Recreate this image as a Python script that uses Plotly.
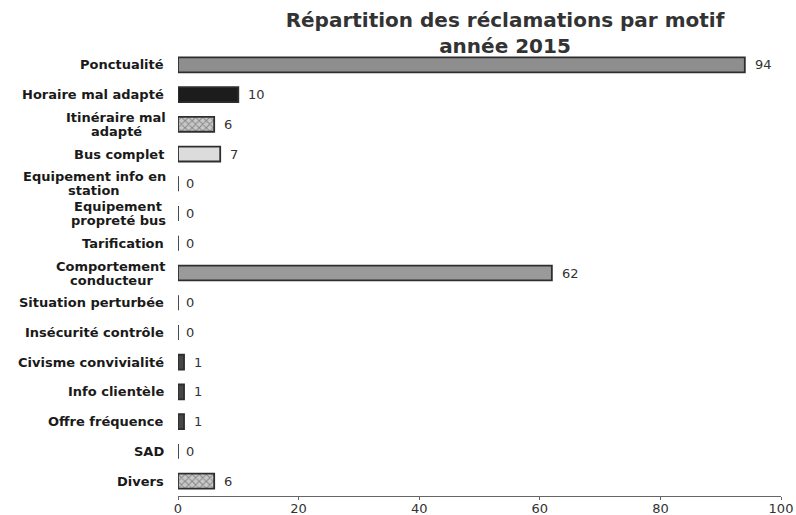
import plotly.graph_objects as go

categories = ["Ponctualité", "Horaire mal adapté", "Itinéraire mal<br>adapté", "Bus complet",
              "Equipement info en<br>station", "Equipement<br>propreté bus", "Tarification",
              "Comportement<br>conducteur", "Situation perturbée", "Insécurité contrôle",
              "Civisme convivialité", "Info clientèle", "Offre fréquence", "SAD", "Divers"]
values = [94, 10, 6, 7, 0, 0, 0, 62, 0, 0, 1, 1, 1, 0, 6]
fill_colors = ["#8e8e8e", "#1c1c1c", "#c8c8c8", "#dcdcdc", "#888", "#888", "#888",
               "#9a9a9a", "#888", "#888", "#474747", "#474747", "#474747", "#888", "#c8c8c8"]
patterns = ["", "", "x", "", "", "", "", "", "", "", "", "", "", "", "x"]
x_ticks = [0, 20, 40, 60, 80, 100]
title = "Répartition des réclamations par motif<br>année 2015"

LABEL_SIZE = 13
# approximate DejaVu Sans Bold advance widths (em) used to centre wrapped labels
W = {" ": 0.348, "a": 0.675, "b": 0.716, "c": 0.590, "d": 0.716, "e": 0.678, "é": 0.678,
     "f": 0.435, "i": 0.343, "l": 0.343, "m": 1.042, "n": 0.712, "o": 0.687, "p": 0.716,
     "q": 0.716, "r": 0.493, "s": 0.595, "t": 0.478, "u": 0.712, "E": 0.683, "C": 0.734,
     "I": 0.372}


def text_w(s):
    return sum(W.get(ch, 0.68) for ch in s) * LABEL_SIZE


fig = go.Figure()
fig.add_trace(go.Bar(
    x=values, y=categories, orientation="h", width=0.5,
    marker=dict(color=fill_colors, line=dict(color="#2e2e2e", width=1.8),
                pattern=dict(shape=patterns, fgcolor="#4a4a4a", size=5, solidity=0.35)),
    hoverinfo="skip", showlegend=False,
))
zero_cats = [c for c, v in zip(categories, values) if v == 0]
fig.add_trace(go.Scatter(
    x=[0] * len(zero_cats), y=zero_cats, mode="markers",
    marker=dict(symbol="line-ns", size=9, line=dict(color="#555", width=1)),
    hoverinfo="skip", showlegend=False,
))

label_font = dict(family="DejaVu Sans", size=LABEL_SIZE, color="#1a1a1a", weight="bold")
for c, v in zip(categories, values):
    fig.add_annotation(x=v, y=c, xref="x", yref="y", text=str(v), showarrow=False,
                       xanchor="left", xshift=8 if v > 0 else 6,
                       font=dict(family="DejaVu Sans", size=13, color="#333"))
    lines = c.split("<br>")
    if len(lines) == 1:
        fig.add_annotation(x=0, y=c, xref="paper", yref="y", text=c, showarrow=False,
                           xanchor="right", xshift=-12, font=label_font)
    else:
        wmax = max(text_w(s) for s in lines)
        n = len(lines)
        for k, s in enumerate(lines):
            fig.add_annotation(x=0, y=c, xref="paper", yref="y", text=s, showarrow=False,
                               xanchor="center", xshift=-12 - wmax / 2,
                               yshift=7 * (n - 1) - 14 * k, font=label_font)

fig.update_layout(
    width=796, height=515,
    margin=dict(l=178, r=15, t=50, b=19, autoexpand=False),
    paper_bgcolor="white", plot_bgcolor="white",
    title=dict(text="<b>" + title + "</b>", x=505 / 796, xanchor="center", y=0.947, yanchor="top",
               font=dict(family="DejaVu Sans", size=20, color="#333")),
    bargap=0.5,
)
fig.update_xaxes(range=[0, 100], tickvals=x_ticks, showgrid=False, zeroline=False,
                 showline=True, linecolor="#666", linewidth=1, ticks="outside", ticklen=3,
                 tickcolor="#666", automargin=False, ticklabelstandoff=-3,
                 tickfont=dict(family="DejaVu Sans", size=13, color="#333"))
fig.update_yaxes(autorange="reversed", showticklabels=False, showgrid=False, zeroline=False,
                 showline=False, automargin=False)

fig.write_html("out.html", config={"displayModeBar": False},
               post_script="document.body.style.margin='0';document.body.style.overflow='hidden';")
